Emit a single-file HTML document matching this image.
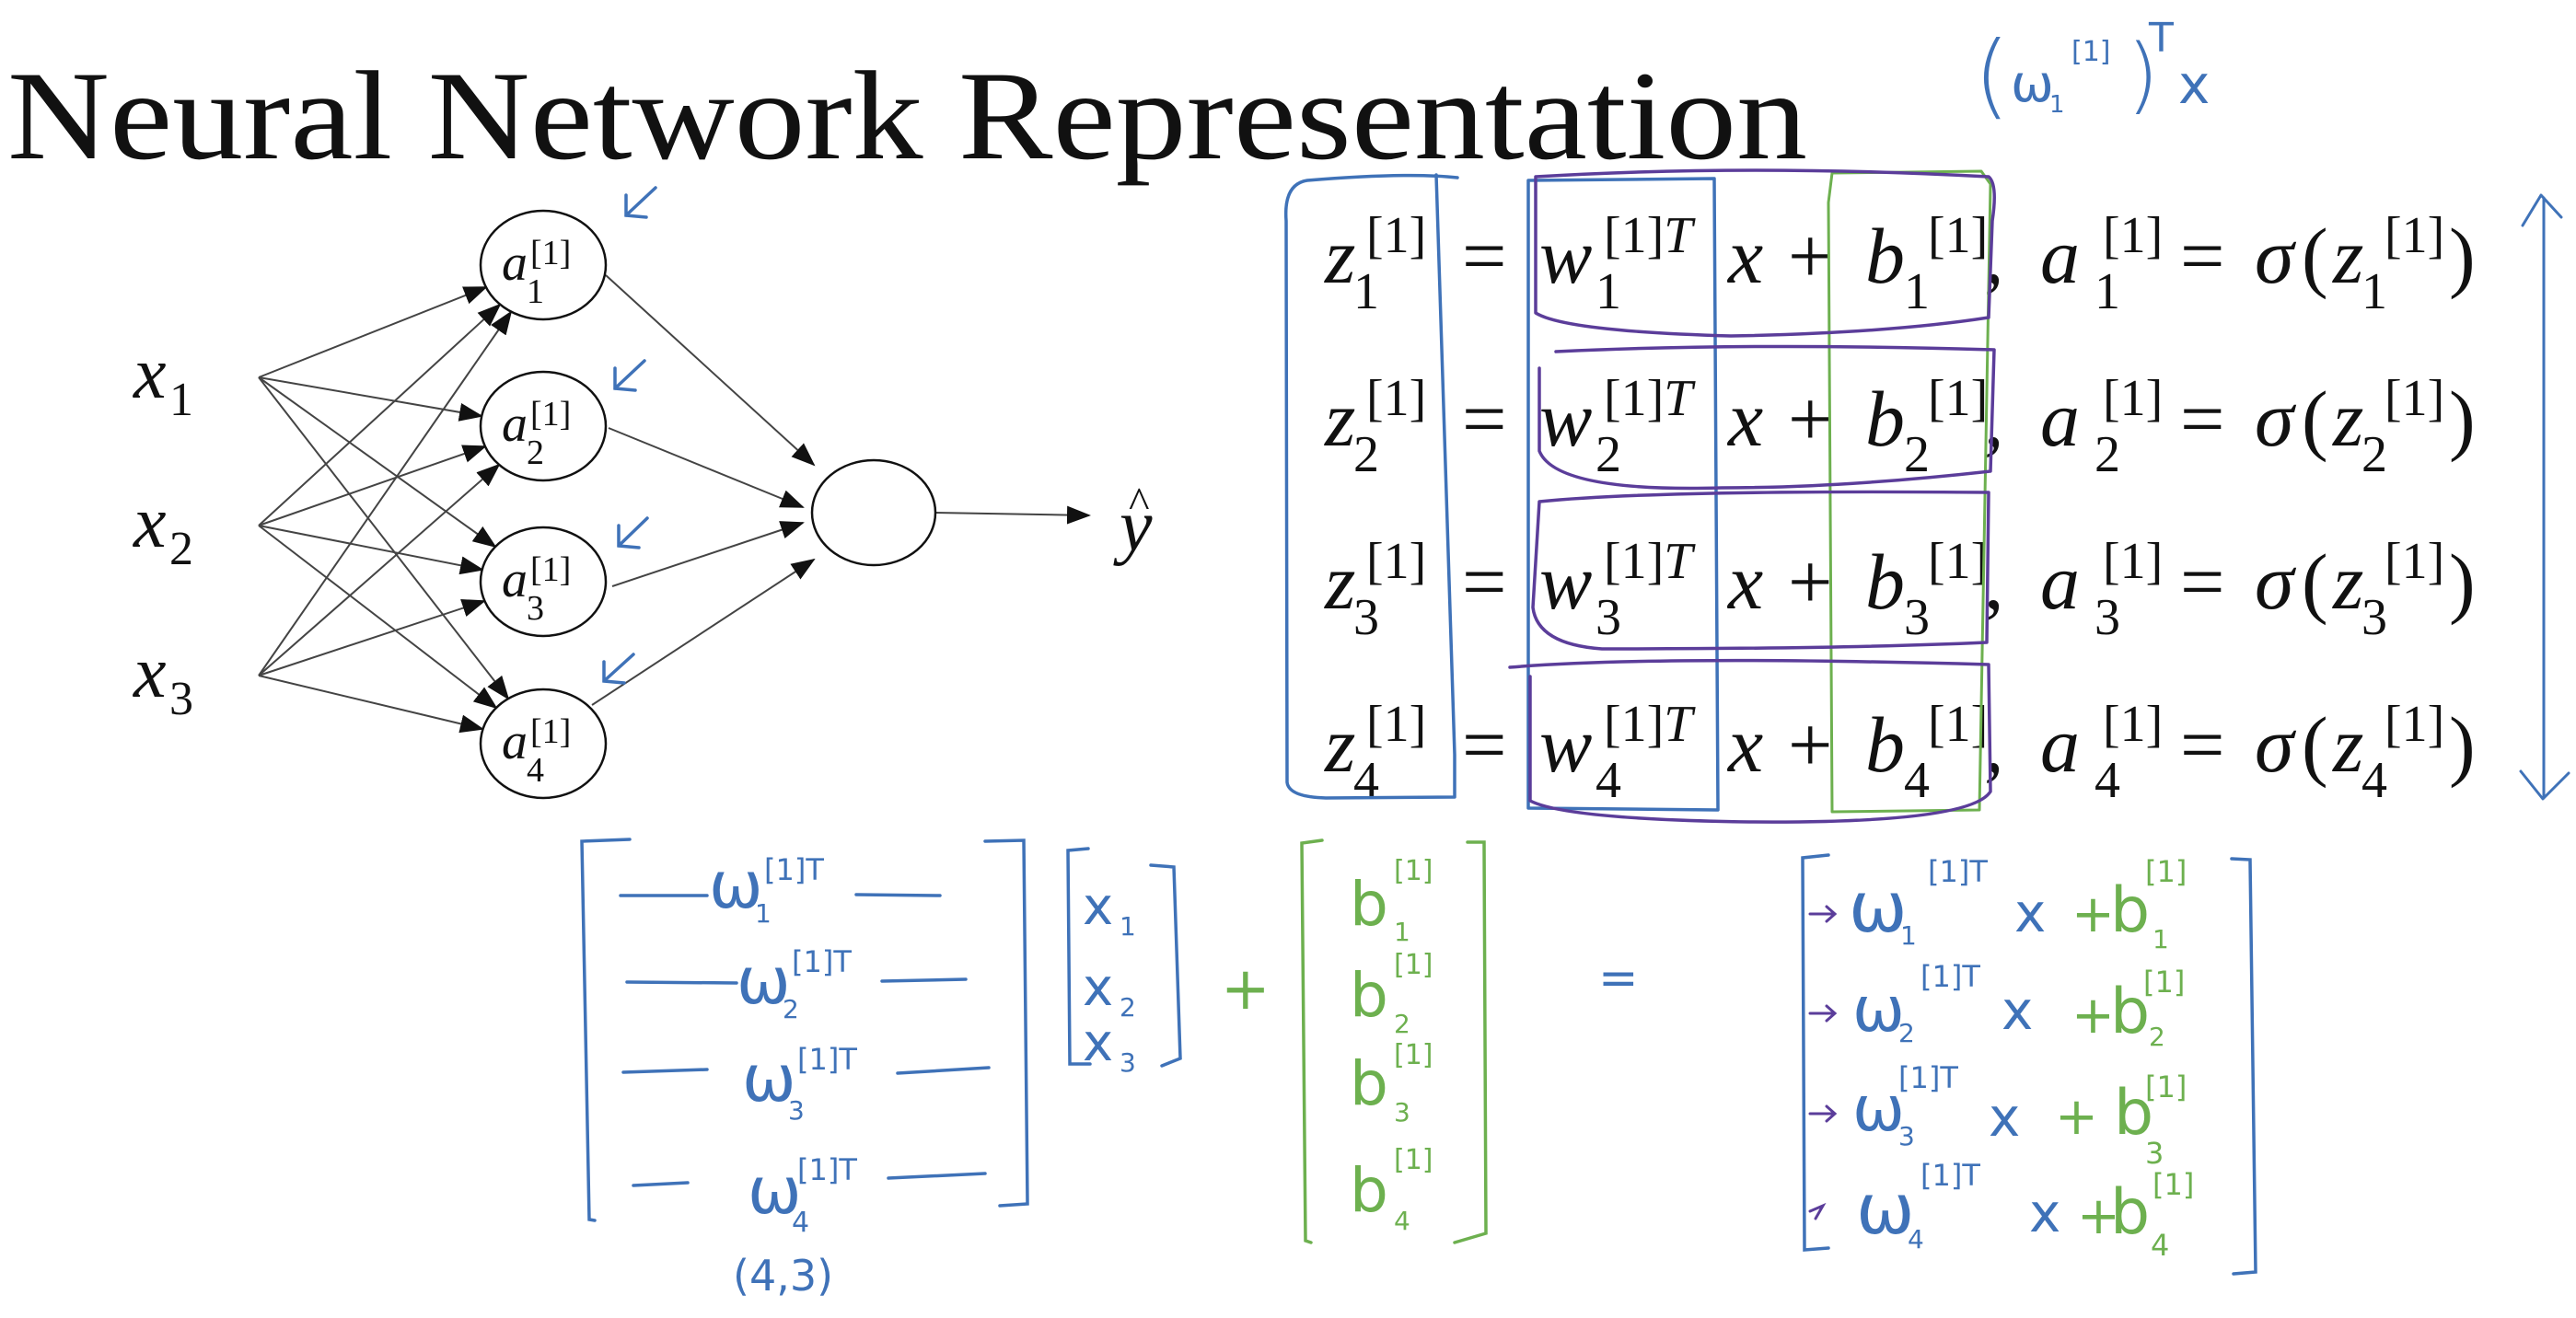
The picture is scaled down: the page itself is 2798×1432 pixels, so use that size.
<!DOCTYPE html>
<html><head><meta charset="utf-8"><style>
html,body{margin:0;padding:0;background:#fff;}
svg{display:block;}
.m{font-family:"Liberation Serif",serif;font-style:italic;fill:#111;}
.u{font-family:"Liberation Serif",serif;font-style:normal;fill:#111;}
.hb{font-family:"DejaVu Sans",sans-serif;fill:#3f72b8;}
.hg{font-family:"DejaVu Sans",sans-serif;fill:#6db04f;}
</style></head><body>
<svg width="2798" height="1432" viewBox="0 0 2798 1432" xmlns="http://www.w3.org/2000/svg">
<defs>
<marker id="ah" markerWidth="26" markerHeight="20" refX="24" refY="10" orient="auto" markerUnits="userSpaceOnUse">
<path d="M0,0 L26,10 L0,20 Z" fill="#111"/></marker>
</defs>
<rect width="2798" height="1432" fill="#fff"/>
<text x="8" y="172" class="u" font-size="138" textLength="1955" lengthAdjust="spacingAndGlyphs">Neural Network Representation</text>

<g stroke="#444" stroke-width="2" fill="none" marker-end="url(#ah)">
<line x1="281" y1="410" x2="528" y2="312"/>
<line x1="281" y1="571" x2="543" y2="331"/>
<line x1="281" y1="734" x2="555" y2="339"/>
<line x1="281" y1="410" x2="523" y2="452"/>
<line x1="281" y1="571" x2="527" y2="485"/>
<line x1="281" y1="734" x2="542" y2="505"/>
<line x1="281" y1="410" x2="538" y2="594"/>
<line x1="281" y1="571" x2="524" y2="619"/>
<line x1="281" y1="734" x2="526" y2="653"/>
<line x1="281" y1="410" x2="552" y2="759"/>
<line x1="281" y1="571" x2="539" y2="769"/>
<line x1="281" y1="734" x2="524" y2="792"/>
<line x1="658" y1="299" x2="884" y2="505"/>
<line x1="661" y1="465" x2="872" y2="551"/>
<line x1="665" y1="637" x2="872" y2="568"/>
<line x1="643" y1="766" x2="884" y2="608"/>
<line x1="1016" y1="557" x2="1183" y2="560"/>
</g>
<g fill="#fff" stroke="#111" stroke-width="2.5">
<ellipse cx="590" cy="288" rx="68" ry="59"/>
<ellipse cx="590" cy="463" rx="68" ry="59"/>
<ellipse cx="590" cy="632" rx="68" ry="59"/>
<ellipse cx="590" cy="808" rx="68" ry="59"/>
<ellipse cx="949" cy="557" rx="67" ry="57"/>
</g>
<g class="m">
<text x="545" y="304" font-size="56">a</text><text x="572" y="329" font-size="38" class="u">1</text><text x="576" y="287" font-size="38" class="u">[1]</text>
<text x="545" y="479" font-size="56">a</text><text x="572" y="504" font-size="38" class="u">2</text><text x="576" y="462" font-size="38" class="u">[1]</text>
<text x="545" y="648" font-size="56">a</text><text x="572" y="673" font-size="38" class="u">3</text><text x="576" y="631" font-size="38" class="u">[1]</text>
<text x="545" y="824" font-size="56">a</text><text x="572" y="849" font-size="38" class="u">4</text><text x="576" y="807" font-size="38" class="u">[1]</text>
<text x="145" y="432" font-size="80">x</text><text x="184" y="451" font-size="52" class="u">1</text>
<text x="145" y="594" font-size="80">x</text><text x="184" y="613" font-size="52" class="u">2</text>
<text x="145" y="757" font-size="80">x</text><text x="184" y="776" font-size="52" class="u">3</text>
<text x="1216" y="598" font-size="80">y</text><text x="1226" y="562" font-size="48" class="u">^</text>
</g>
<g stroke="#3f72b8" stroke-width="3.5" fill="none" stroke-linecap="round">
<path d="M712,204 L680,234 M680,212 L680,234 L702,236"/>
<path d="M700,392 L668,422 M668,400 L668,422 L690,424"/>
<path d="M703,563 L672,593 M672,571 L672,593 L694,595"/>
<path d="M688,711 L656,740 M656,719 L656,740 L678,742"/>
</g>

<g font-size="86">
<g transform="translate(0,4)">
<text class="m" x="1439" y="303">z</text><text class="u" x="1470" y="331" font-size="56">1</text><text class="u" x="1484" y="270" font-size="56">[1]</text>
<text class="u" x="1588" y="303">=</text>
<text class="m" x="1672" y="303">w</text><text class="u" x="1733" y="331" font-size="56">1</text><text class="u" x="1742" y="270" font-size="56">[1]<tspan font-style="italic">T</tspan></text>
<text class="m" x="1877" y="303">x</text><text class="u" x="1942" y="303">+</text><text class="m" x="2026" y="303">b</text><text class="u" x="2068" y="331" font-size="56">1</text><text class="u" x="2094" y="270" font-size="56">[1]</text>
<text class="u" x="2155" y="303">,</text>
<text class="m" x="2216" y="303">a</text><text class="u" x="2275" y="331" font-size="56">1</text><text class="u" x="2284" y="270" font-size="56">[1]</text>
<text class="u" x="2368" y="303">=</text><text class="m" x="2449" y="303">σ</text><text class="u" x="2500" y="303">(</text><text class="m" x="2534" y="303">z</text><text class="u" x="2565" y="331" font-size="56">1</text><text class="u" x="2590" y="270" font-size="56">[1]</text><text class="u" x="2660" y="303">)</text>
</g>
<g transform="translate(0,181)">
<text class="m" x="1439" y="303">z</text><text class="u" x="1470" y="331" font-size="56">2</text><text class="u" x="1484" y="270" font-size="56">[1]</text>
<text class="u" x="1588" y="303">=</text>
<text class="m" x="1672" y="303">w</text><text class="u" x="1733" y="331" font-size="56">2</text><text class="u" x="1742" y="270" font-size="56">[1]<tspan font-style="italic">T</tspan></text>
<text class="m" x="1877" y="303">x</text><text class="u" x="1942" y="303">+</text><text class="m" x="2026" y="303">b</text><text class="u" x="2068" y="331" font-size="56">2</text><text class="u" x="2094" y="270" font-size="56">[1]</text>
<text class="u" x="2155" y="303">,</text>
<text class="m" x="2216" y="303">a</text><text class="u" x="2275" y="331" font-size="56">2</text><text class="u" x="2284" y="270" font-size="56">[1]</text>
<text class="u" x="2368" y="303">=</text><text class="m" x="2449" y="303">σ</text><text class="u" x="2500" y="303">(</text><text class="m" x="2534" y="303">z</text><text class="u" x="2565" y="331" font-size="56">2</text><text class="u" x="2590" y="270" font-size="56">[1]</text><text class="u" x="2660" y="303">)</text>
</g>
<g transform="translate(0,358)">
<text class="m" x="1439" y="303">z</text><text class="u" x="1470" y="331" font-size="56">3</text><text class="u" x="1484" y="270" font-size="56">[1]</text>
<text class="u" x="1588" y="303">=</text>
<text class="m" x="1672" y="303">w</text><text class="u" x="1733" y="331" font-size="56">3</text><text class="u" x="1742" y="270" font-size="56">[1]<tspan font-style="italic">T</tspan></text>
<text class="m" x="1877" y="303">x</text><text class="u" x="1942" y="303">+</text><text class="m" x="2026" y="303">b</text><text class="u" x="2068" y="331" font-size="56">3</text><text class="u" x="2094" y="270" font-size="56">[1]</text>
<text class="u" x="2155" y="303">,</text>
<text class="m" x="2216" y="303">a</text><text class="u" x="2275" y="331" font-size="56">3</text><text class="u" x="2284" y="270" font-size="56">[1]</text>
<text class="u" x="2368" y="303">=</text><text class="m" x="2449" y="303">σ</text><text class="u" x="2500" y="303">(</text><text class="m" x="2534" y="303">z</text><text class="u" x="2565" y="331" font-size="56">3</text><text class="u" x="2590" y="270" font-size="56">[1]</text><text class="u" x="2660" y="303">)</text>
</g>
<g transform="translate(0,535)">
<text class="m" x="1439" y="303">z</text><text class="u" x="1470" y="331" font-size="56">4</text><text class="u" x="1484" y="270" font-size="56">[1]</text>
<text class="u" x="1588" y="303">=</text>
<text class="m" x="1672" y="303">w</text><text class="u" x="1733" y="331" font-size="56">4</text><text class="u" x="1742" y="270" font-size="56">[1]<tspan font-style="italic">T</tspan></text>
<text class="m" x="1877" y="303">x</text><text class="u" x="1942" y="303">+</text><text class="m" x="2026" y="303">b</text><text class="u" x="2068" y="331" font-size="56">4</text><text class="u" x="2094" y="270" font-size="56">[1]</text>
<text class="u" x="2155" y="303">,</text>
<text class="m" x="2216" y="303">a</text><text class="u" x="2275" y="331" font-size="56">4</text><text class="u" x="2284" y="270" font-size="56">[1]</text>
<text class="u" x="2368" y="303">=</text><text class="m" x="2449" y="303">σ</text><text class="u" x="2500" y="303">(</text><text class="m" x="2534" y="303">z</text><text class="u" x="2565" y="331" font-size="56">4</text><text class="u" x="2590" y="270" font-size="56">[1]</text><text class="u" x="2660" y="303">)</text>
</g>
</g>

<g fill="none" stroke-linecap="round" stroke-linejoin="round">
<path d="M1583,193 Q1530,187 1420,196 Q1394,200 1397,240 L1398,850 Q1400,866 1440,867 L1580,866 L1580,820 L1560,190" stroke="#3f72b8" stroke-width="3.5"/>
<path d="M1660,196 L1862,194 L1866,880 L1660,878 Z" stroke="#3f72b8" stroke-width="3.5"/>
<path d="M1990,188 L2152,186 L2162,200 L2150,880 L1990,882 L1986,220 Z" stroke="#6db04f" stroke-width="3"/>
<path d="M1668,192 Q1900,178 2160,192 Q2170,200 2164,240 L2160,345 Q2050,362 1880,365 Q1700,360 1668,340 Z" stroke="#5b3d9a" stroke-width="3.5"/>
<path d="M1690,382 Q1900,372 2166,380 L2162,512 Q2000,530 1870,530 Q1690,535 1672,490 L1672,400" stroke="#5b3d9a" stroke-width="3.5"/>
<path d="M1672,545 Q1800,532 2160,535 L2158,698 Q2000,705 1740,705 Q1670,700 1665,660 Z" stroke="#5b3d9a" stroke-width="3.5"/>
<path d="M1640,725 Q1800,712 2160,722 L2162,860 Q2140,895 1900,893 Q1700,890 1662,870 L1662,735" stroke="#5b3d9a" stroke-width="3.5"/>
<path d="M2763,215 L2763,866 M2740,245 L2760,212 L2782,236 M2738,838 L2762,868 L2790,840" stroke="#3f72b8" stroke-width="3"/>
</g>

<g class="hb">
<text x="2144" y="116" font-size="100" font-weight="200">(</text>
<text x="2184" y="110" font-size="56">ω</text>
<text x="2226" y="122" font-size="26">1</text>
<text x="2250" y="66" font-size="30">[1]</text>
<text x="2310" y="112" font-size="90" font-weight="200">)</text>
<text x="2334" y="56" font-size="44">T</text>
<text x="2366" y="112" font-size="58">x</text>
</g>

<g fill="none" stroke-linecap="round" stroke-width="3.5" stroke="#3f72b8">
<path d="M684,912 L632,914 L640,1325 L646,1326"/>
<path d="M1070,914 L1112,913 L1116,1308 L1086,1310"/>
<path d="M674,973 L768,973 M930,972 L1021,973"/>
<path d="M681,1067 L800,1068 M958,1066 L1049,1064"/>
<path d="M677,1165 L768,1162 M975,1166 L1074,1160"/>
<path d="M688,1288 L747,1285 M965,1280 L1070,1275"/>
<path d="M1182,922 L1160,924 L1162,1156 L1184,1156 M1250,940 L1275,942 L1282,1150 L1262,1158"/>
</g>
<g class="hb">
<text x="770" y="986" font-size="70">ω</text><text x="820" y="1002" font-size="28">1</text><text x="830" y="956" font-size="32">[1]T</text>
<text x="800" y="1090" font-size="70">ω</text><text x="850" y="1106" font-size="28">2</text><text x="860" y="1056" font-size="32">[1]T</text>
<text x="806" y="1196" font-size="70">ω</text><text x="856" y="1216" font-size="28">3</text><text x="866" y="1162" font-size="32">[1]T</text>
<text x="812" y="1318" font-size="70">ω</text><text x="860" y="1338" font-size="30">4</text><text x="866" y="1282" font-size="32">[1]T</text>
<text x="796" y="1402" font-size="46">(4,3)</text>
<text x="1176" y="1004" font-size="56">x</text><text x="1216" y="1016" font-size="28">1</text>
<text x="1176" y="1092" font-size="56">x</text><text x="1216" y="1104" font-size="28">2</text>
<text x="1176" y="1152" font-size="56">x</text><text x="1216" y="1164" font-size="28">3</text>
<text x="1736" y="1080" font-size="52">=</text>
</g>
<g class="hg">
<text x="1326" y="1096" font-size="64">+</text>
<text x="1466" y="1005" font-size="66">b</text><text x="1514" y="1022" font-size="28">1</text><text x="1514" y="956" font-size="30">[1]</text>
<text x="1466" y="1104" font-size="66">b</text><text x="1514" y="1122" font-size="28">2</text><text x="1514" y="1058" font-size="30">[1]</text>
<text x="1466" y="1200" font-size="66">b</text><text x="1514" y="1218" font-size="28">3</text><text x="1514" y="1156" font-size="30">[1]</text>
<text x="1466" y="1316" font-size="66">b</text><text x="1514" y="1336" font-size="28">4</text><text x="1514" y="1270" font-size="30">[1]</text>
</g>
<g fill="none" stroke-linecap="round" stroke-width="3.5" stroke="#6db04f">
<path d="M1436,913 L1414,916 L1418,1348 L1424,1350 M1594,915 L1612,915 L1614,1340 L1580,1350"/>
</g>

<g fill="none" stroke-linecap="round" stroke-width="3.5" stroke="#3f72b8">
<path d="M1986,929 L1958,932 L1960,1358 L1986,1356"/>
<path d="M2424,933 L2444,934 L2450,1382 L2426,1384"/>
</g>
<g fill="none" stroke="#5b3d9a" stroke-width="3" stroke-linecap="round">
<path d="M1966,993 L1992,993 M1984,985 L1993,993 L1984,1001"/>
<path d="M1966,1101 L1992,1101 M1984,1093 L1993,1101 L1984,1109"/>
<path d="M1966,1210 L1992,1210 M1984,1202 L1993,1210 L1984,1218"/>
<path d="M1966,1316 L1980,1310 L1972,1324"/>
</g>
<g class="hb">
<text x="2008" y="1012" font-size="76">ω</text><text x="2064" y="1026" font-size="28">1</text><text x="2094" y="958" font-size="32">[1]T</text><text x="2188" y="1012" font-size="58">x</text>
<text x="2012" y="1120" font-size="68">ω</text><text x="2062" y="1132" font-size="28">2</text><text x="2086" y="1072" font-size="32">[1]T</text><text x="2174" y="1118" font-size="58">x</text>
<text x="2012" y="1228" font-size="68">ω</text><text x="2062" y="1244" font-size="28">3</text><text x="2062" y="1182" font-size="32">[1]T</text><text x="2160" y="1234" font-size="58">x</text>
<text x="2016" y="1340" font-size="76">ω</text><text x="2072" y="1356" font-size="28">4</text><text x="2086" y="1288" font-size="32">[1]T</text><text x="2204" y="1338" font-size="58">x</text>
</g>
<g class="hg">
<text x="2250" y="1012" font-size="56">+</text><text x="2292" y="1012" font-size="68">b</text><text x="2338" y="1030" font-size="28">1</text><text x="2330" y="958" font-size="32">[1]</text>
<text x="2250" y="1122" font-size="56">+</text><text x="2292" y="1122" font-size="68">b</text><text x="2334" y="1136" font-size="28">2</text><text x="2328" y="1078" font-size="32">[1]</text>
<text x="2232" y="1232" font-size="56">+</text><text x="2296" y="1232" font-size="68">b</text><text x="2330" y="1264" font-size="32">3</text><text x="2330" y="1192" font-size="32">[1]</text>
<text x="2256" y="1340" font-size="56">+</text><text x="2292" y="1340" font-size="68">b</text><text x="2336" y="1364" font-size="32">4</text><text x="2338" y="1298" font-size="32">[1]</text>
</g>
</svg>
</body></html>
